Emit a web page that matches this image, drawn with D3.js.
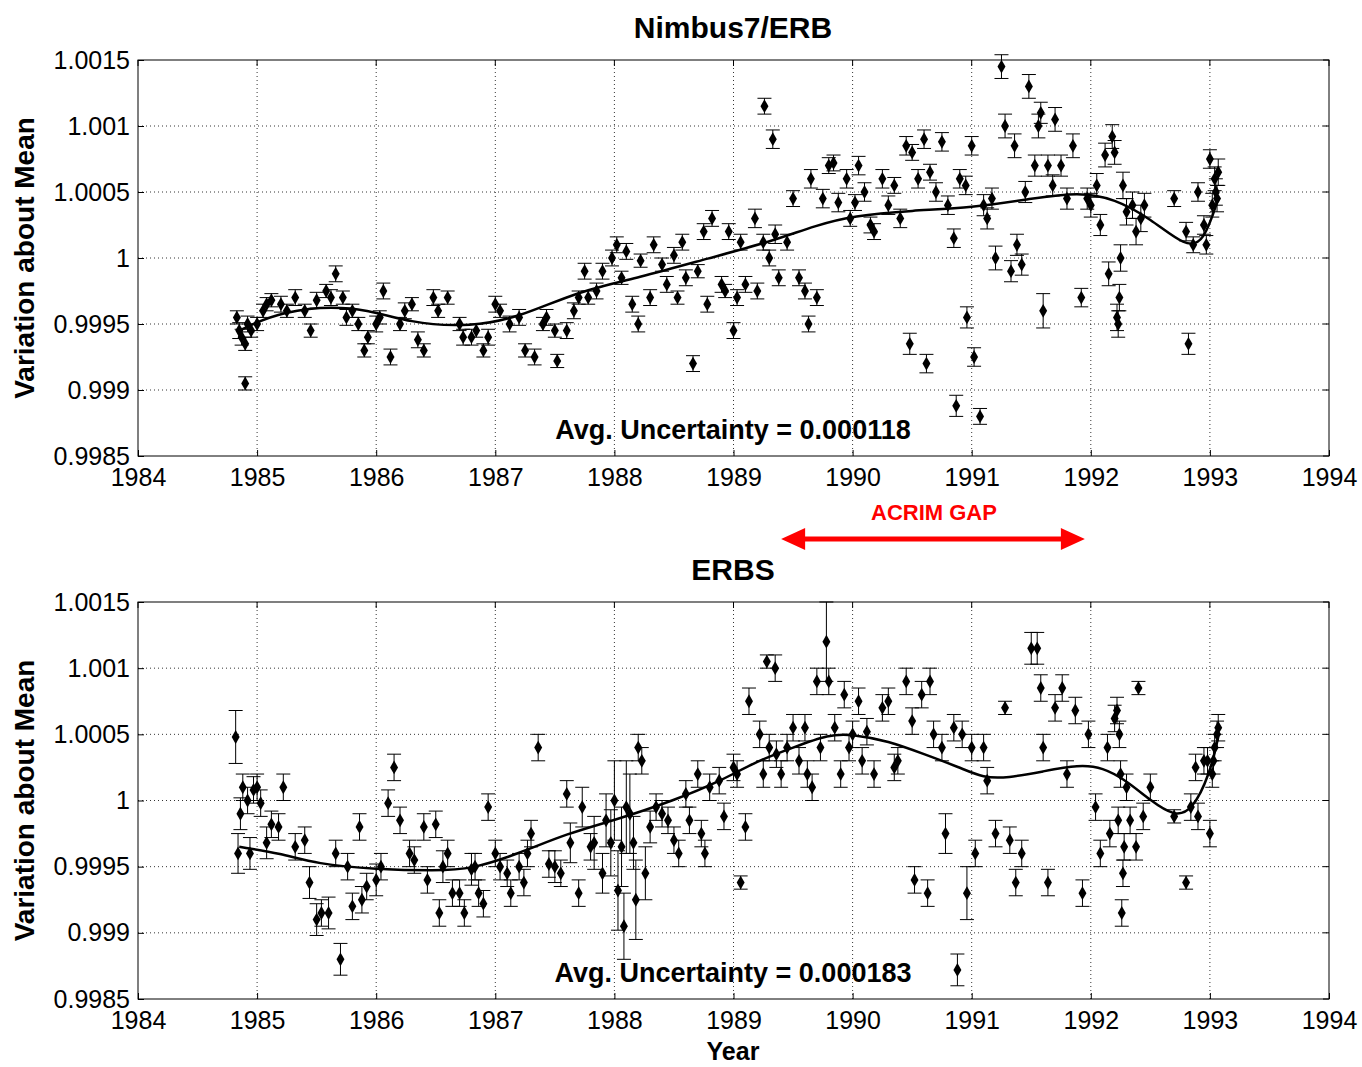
<!DOCTYPE html>
<html><head><meta charset="utf-8">
<script src="https://cdn.jsdelivr.net/npm/d3@7"></script>
<style>body{margin:0;background:#fff;font-family:"Liberation Sans",Arial,sans-serif}</style>
</head><body><svg id="c" width="1362" height="1067"></svg>
<script>
// [year, value, error]
const nimbusPoints = [
[1984.83,0.99955,0.00005],[1984.85,0.99945,0.00006],[1984.87,0.9994,0.00006],[1984.9,0.99935,0.00005],[1984.92,0.9995,0.00006],[1984.9,0.99905,0.00005],
[1984.95,0.99945,0.00005],[1985.0,0.9995,0.00005],[1985.05,0.9996,0.00005],[1985.08,0.99965,0.00005],[1985.12,0.99968,0.00005],
[1985.2,0.99965,0.00006],[1985.25,0.9996,0.00005],[1985.32,0.9997,0.00006],[1985.4,0.9996,0.00005],[1985.45,0.99945,0.00005],
[1985.5,0.99968,0.00006],[1985.58,0.99975,0.00005],[1985.62,0.9997,0.00006],[1985.66,0.99988,0.00006],[1985.72,0.9997,0.00005],
[1985.75,0.99955,0.00006],[1985.8,0.9996,0.00005],[1985.85,0.9995,0.00005],[1985.9,0.9993,0.00005],[1985.93,0.9994,0.00005],
[1986.0,0.9995,0.00006],[1986.03,0.99955,0.00005],[1986.06,0.99975,0.00006],[1986.12,0.99925,0.00006],[1986.2,0.9995,0.00005],
[1986.24,0.9996,0.00006],[1986.3,0.99965,0.00005],[1986.35,0.99938,0.00006],[1986.4,0.9993,0.00005],[1986.48,0.9997,0.00006],
[1986.52,0.9996,0.00005],[1986.6,0.9997,0.00005],[1986.7,0.9995,0.00005],[1986.73,0.9994,0.00006],[1986.8,0.9994,0.00006],
[1986.84,0.99945,0.00005],[1986.9,0.9993,0.00005],[1986.94,0.9994,0.00006],[1987.0,0.99965,0.00006],[1987.04,0.9996,0.00005],
[1987.12,0.9995,0.00006],[1987.2,0.99955,0.00006],[1987.25,0.9993,0.00005],[1987.33,0.99925,0.00006],[1987.4,0.9995,0.00005],
[1987.43,0.99955,0.00006],[1987.5,0.99945,0.00005],[1987.52,0.99922,0.00005],[1987.6,0.99945,0.00006],[1987.66,0.9996,0.00006],
[1987.7,0.9997,0.00005],[1987.75,0.9999,0.00006],[1987.78,0.9997,0.00005],[1987.85,0.99975,0.00006],[1987.9,0.9999,0.00006],
[1987.98,1.0,0.00006],[1988.02,1.0001,0.00006],[1988.06,0.99985,0.00005],[1988.1,1.00005,0.00006],[1988.15,0.99965,0.00006],
[1988.2,0.9995,0.00006],[1988.22,0.99998,0.00005],[1988.3,0.9997,0.00006],[1988.33,1.0001,0.00006],[1988.4,0.99995,0.00005],
[1988.44,0.9998,0.00006],[1988.5,1.00002,0.00006],[1988.53,0.9997,0.00005],[1988.57,1.00012,0.00006],[1988.6,0.99985,0.00006],
[1988.66,0.9992,0.00006],[1988.7,0.9999,0.00005],[1988.75,1.0002,0.00006],[1988.78,0.99965,0.00006],[1988.82,1.0003,0.00006],
[1988.9,0.9998,0.00006],[1988.93,0.99975,0.00005],[1988.96,1.0002,0.00006],[1989.0,0.99945,0.00006],[1989.03,0.9997,0.00006],
[1989.06,1.00012,0.00006],[1989.1,0.9998,0.00006],[1989.18,1.0003,0.00007],[1989.2,0.99975,0.00006],[1989.25,1.00012,0.00006],
[1989.3,1.0,0.00006],[1989.35,1.00018,0.00007],[1989.38,0.99985,0.00006],[1989.26,1.00115,0.00006],[1989.33,1.0009,0.00007],
[1989.45,1.00012,0.00006],[1989.5,1.00045,0.00006],[1989.55,0.99985,0.00006],[1989.6,0.99975,0.00006],[1989.63,0.9995,0.00006],
[1989.65,1.0006,0.00007],[1989.7,0.9997,0.00006],[1989.75,1.00045,0.00007],[1989.8,1.0007,0.00006],[1989.84,1.00072,0.00006],
[1989.88,1.00042,0.00007],[1989.95,1.0006,0.00007],[1989.98,1.0003,0.00006],[1990.02,1.00042,0.00006],[1990.05,1.0007,0.00007],
[1990.1,1.0005,0.00007],[1990.15,1.00025,0.00006],[1990.18,1.0002,0.00006],[1990.25,1.0006,0.00007],[1990.3,1.0004,0.00007],
[1990.35,1.00055,0.00006],[1990.4,1.0003,0.00007],[1990.45,1.00085,0.00007],[1990.5,1.0008,0.00006],[1990.55,1.0006,0.00007],
[1990.6,1.0009,0.00007],[1990.65,1.00065,0.00006],[1990.48,0.99935,0.00008],[1990.62,0.9992,0.00007],[1990.7,1.0005,0.00007],
[1990.75,1.00088,0.00007],[1990.8,1.0004,0.00007],[1990.85,1.00015,0.00007],[1990.9,1.0006,0.00007],[1990.95,1.00055,0.00007],
[1990.87,0.99888,0.00008],[1990.96,0.99955,0.00008],[1991.0,1.00085,0.00007],[1991.02,0.99925,0.00007],[1991.07,0.9988,0.00006],
[1991.1,1.0004,0.00008],[1991.13,1.0003,0.00008],[1991.17,1.00045,0.00008],[1991.2,1.0,0.00009],[1991.25,1.00145,0.00009],
[1991.28,1.001,0.00009],[1991.33,0.9999,0.00008],[1991.36,1.00085,0.00009],[1991.38,1.0001,0.00008],[1991.42,0.99995,0.00008],
[1991.45,1.0005,0.00008],[1991.48,1.0013,0.00009],[1991.53,1.0007,0.00008],[1991.56,1.001,0.00009],[1991.58,1.0011,0.00008],
[1991.6,0.9996,0.00013],[1991.64,1.0007,0.00008],[1991.68,1.00055,0.00008],[1991.7,1.00105,0.00009],[1991.75,1.0007,0.00008],
[1991.8,1.00045,0.00008],[1991.85,1.00085,0.00009],[1991.92,0.9997,0.00007],[1991.97,1.00045,0.00008],[1992.0,1.0004,0.00009],
[1992.05,1.00055,0.00009],[1992.08,1.00025,0.00008],[1992.12,1.00078,0.00009],[1992.15,0.99988,0.00009],[1992.18,1.00092,0.00009],
[1992.2,1.0008,0.00009],[1992.22,0.99955,0.0001],[1992.23,0.9995,0.0001],[1992.24,0.9997,0.0001],[1992.25,1.0,0.0001],
[1992.27,1.00055,0.0001],[1992.3,1.00035,0.0001],[1992.35,1.0004,0.0001],[1992.38,1.0002,0.0001],[1992.42,1.0003,0.0001],
[1992.45,1.0004,0.00009],[1992.7,1.00045,0.00006],[1992.8,1.0002,0.00007],[1992.82,0.99935,0.00008],[1992.86,1.0001,0.00006],
[1992.9,1.0005,0.00007],[1992.95,1.00025,0.00007],[1992.97,1.0001,0.00007],[1993.0,1.00075,0.00007],[1993.02,1.0004,0.00009],
[1993.04,1.0006,0.00009],[1993.05,1.0005,0.0001],[1993.06,1.00045,0.0001],[1993.07,1.00065,0.0001]
];
const nimbusTrend = [
[1984.85,0.99945],[1985.2,0.9996],[1985.8,0.99965],[1986.3,0.9995],[1986.8,0.99948],[1987.2,0.99955],[1987.7,0.99975],
[1988.2,0.99985],[1988.8,1.0],[1989.3,1.00012],[1989.7,1.00025],[1990.0,1.00032],[1990.5,1.00036],[1991.0,1.00038],
[1991.5,1.00045],[1991.9,1.0005],[1992.2,1.00045],[1992.5,1.0003],[1992.8,1.00008],[1992.95,1.00012],[1993.07,1.00045]
];
const erbsPoints = [
[1984.82,1.00048,0.0002],[1984.84,0.9996,0.00015],[1984.86,0.9999,0.00012],[1984.88,1.0001,0.0001],[1984.92,1.0,0.0001],
[1984.94,0.9996,0.00012],[1984.97,1.00008,0.0001],[1985.0,1.0001,0.0001],[1985.03,0.99998,0.0001],[1985.08,0.99968,0.00012],
[1985.12,0.99982,0.0001],[1985.18,0.9998,0.0001],[1985.22,1.0001,0.0001],[1985.32,0.99965,0.0001],[1985.4,0.9997,0.0001],
[1985.44,0.99938,0.00012],[1985.5,0.9991,0.00012],[1985.54,0.99915,0.0001],[1985.6,0.99915,0.00012],[1985.66,0.9996,0.0001],
[1985.7,0.9988,0.00012],[1985.76,0.9995,0.0001],[1985.8,0.9992,0.0001],[1985.86,0.9998,0.0001],[1985.88,0.99925,0.0001],
[1985.92,0.99935,0.0001],[1986.0,0.9994,0.00012],[1986.04,0.9995,0.0001],[1986.1,0.99998,0.0001],[1986.15,1.00025,0.0001],
[1986.2,0.99985,0.0001],[1986.28,0.9996,0.0001],[1986.32,0.99955,0.0001],[1986.4,0.9998,0.0001],[1986.43,0.9994,0.0001],
[1986.5,0.99982,0.0001],[1986.53,0.99915,0.0001],[1986.56,0.9995,0.00012],[1986.6,0.9996,0.0001],[1986.64,0.9993,0.0001],
[1986.7,0.9993,0.0001],[1986.74,0.99915,0.0001],[1986.8,0.99948,0.00012],[1986.83,0.9995,0.0001],[1986.86,0.9993,0.0001],
[1986.9,0.99922,0.0001],[1986.94,0.99995,0.0001],[1987.0,0.9996,0.0001],[1987.04,0.9995,0.0001],[1987.1,0.99945,0.0001],
[1987.13,0.9993,0.0001],[1987.2,0.9995,0.0001],[1987.24,0.99938,0.0001],[1987.27,0.9996,0.0001],[1987.3,0.99975,0.0001],
[1987.36,1.0004,0.0001],[1987.45,0.99952,0.0001],[1987.5,0.9995,0.00012],[1987.55,0.99945,0.0001],[1987.6,1.00005,0.0001],
[1987.63,0.99968,0.00015],[1987.7,0.9993,0.0001],[1987.73,0.99995,0.00015],[1987.8,0.99965,0.0001],[1987.83,0.99968,0.0002],
[1987.9,0.99945,0.00015],[1987.93,0.99985,0.0002],[1987.97,0.99968,0.00025],[1988.0,1.0,0.0003],[1988.03,0.99932,0.0003],
[1988.06,0.99965,0.0003],[1988.08,0.99905,0.00025],[1988.1,0.99995,0.00035],[1988.13,0.9999,0.0003],[1988.16,0.99968,0.0002],
[1988.18,0.99925,0.0003],[1988.2,1.0004,0.0001],[1988.23,1.0003,0.0001],[1988.26,0.99945,0.0002],[1988.3,0.9998,0.00012],
[1988.35,0.99995,0.0001],[1988.4,0.9999,0.0001],[1988.45,0.99985,0.0001],[1988.5,0.9997,0.0001],[1988.54,0.9996,0.0001],
[1988.6,1.00005,0.0001],[1988.63,0.99985,0.0001],[1988.7,1.0002,0.0001],[1988.73,0.99975,0.0001],[1988.76,0.9996,0.0001],
[1988.8,1.0001,0.0001],[1988.88,1.00015,0.0001],[1988.92,0.99988,0.0001],[1989.0,1.00025,0.0001],[1989.03,1.0002,0.0001],
[1989.06,0.99938,0.00005],[1989.1,0.9998,0.0001],[1989.13,1.00075,0.0001],[1989.22,1.0005,0.0001],[1989.25,1.0002,0.0001],
[1989.3,1.0004,0.0001],[1989.36,1.00035,0.0001],[1989.4,1.0002,0.0001],[1989.28,1.00105,0.00005],[1989.35,1.001,0.0001],
[1989.45,1.0004,0.0001],[1989.5,1.00055,0.0001],[1989.55,1.0003,0.0001],[1989.6,1.00055,0.0001],[1989.62,1.0002,0.0001],
[1989.66,1.0001,0.0001],[1989.7,1.0009,0.0001],[1989.73,1.0004,0.0001],[1989.78,1.0012,0.0003],[1989.8,1.0009,0.0001],
[1989.85,1.00055,0.0001],[1989.9,1.0002,0.0001],[1989.93,1.0008,0.0001],[1989.97,1.0004,0.0001],[1990.0,1.0005,0.0001],
[1990.05,1.00075,0.0001],[1990.08,1.0003,0.0001],[1990.12,1.00052,0.0001],[1990.18,1.0002,0.0001],[1990.25,1.0007,0.0001],
[1990.3,1.00075,0.0001],[1990.35,1.00025,0.0001],[1990.38,1.0003,0.0001],[1990.45,1.0009,0.0001],[1990.5,1.0006,0.0001],
[1990.52,0.9994,0.0001],[1990.58,1.0008,0.0001],[1990.63,0.9993,0.0001],[1990.65,1.0009,0.0001],[1990.68,1.0005,0.0001],
[1990.75,1.0004,0.0001],[1990.78,0.99975,0.00015],[1990.85,1.00055,0.0001],[1990.88,0.99872,0.00012],[1990.92,1.0005,0.0001],
[1990.96,0.9993,0.0002],[1991.0,1.0004,0.0001],[1991.03,0.9996,0.0001],[1991.1,1.0004,0.0001],[1991.13,1.00015,0.0001],
[1991.2,0.99975,0.0001],[1991.28,1.0007,0.00005],[1991.32,0.9997,0.0001],[1991.37,0.99938,0.0001],[1991.42,0.9996,0.0001],
[1991.5,1.00115,0.00012],[1991.55,1.00115,0.00012],[1991.58,1.00085,0.0001],[1991.6,1.0004,0.0001],[1991.64,0.99938,0.0001],
[1991.7,1.0007,0.0001],[1991.76,1.00085,0.0001],[1991.8,1.0002,0.0001],[1991.87,1.00068,0.0001],[1991.93,0.9993,0.0001],
[1991.98,1.0005,0.0001],[1992.04,0.99995,0.0001],[1992.08,0.9996,0.0001],[1992.14,1.0004,0.0001],[1992.16,0.99975,0.0001],
[1992.2,1.00062,0.0001],[1992.22,1.00068,0.0001],[1992.23,0.99985,0.0001],[1992.24,1.0005,0.0001],[1992.25,1.0002,0.0001],
[1992.26,0.99915,0.0001],[1992.27,0.99945,0.0001],[1992.28,0.99965,0.0001],[1992.3,1.0001,0.0001],[1992.33,0.99985,0.0001],
[1992.38,0.99965,0.0001],[1992.4,1.00085,0.00005],[1992.44,0.99988,0.0001],[1992.5,1.0001,0.0001],[1992.7,0.99988,0.00005],
[1992.8,0.99938,0.00005],[1992.84,0.99995,0.0001],[1992.88,1.00025,0.0001],[1992.9,0.99988,0.0001],[1992.95,1.0003,0.0001],
[1992.98,1.0003,0.0001],[1993.0,0.99975,0.0001],[1993.02,1.0002,0.0001],[1993.03,1.0003,0.0001],[1993.04,1.0004,0.0001],
[1993.06,1.0005,0.0001],[1993.07,1.00055,0.0001]
];
const erbsTrend = [
[1984.85,0.99965],[1985.2,0.9996],[1985.5,0.99952],[1986.0,0.99948],[1986.5,0.99947],[1986.8,0.99948],[1987.2,0.9996],
[1987.6,0.99975],[1988.0,0.99985],[1988.5,1.0],[1988.9,1.00015],[1989.2,1.0003],[1989.5,1.0004],[1989.8,1.0005],
[1990.0,1.0005],[1990.3,1.00045],[1990.6,1.00035],[1990.9,1.00025],[1991.1,1.00017],[1991.3,1.00017],[1991.6,1.00022],
[1991.9,1.00027],[1992.1,1.00025],[1992.3,1.00015],[1992.5,1.0],[1992.7,0.99988],[1992.85,0.99992],[1993.0,1.0002],[1993.07,1.00048]
];
const yearTicks = d3.range(1984, 1995);
const valueTicks = [0.9985, 0.999, 0.9995, 1, 1.0005, 1.001, 1.0015];
const valueLabels = ["0.9985", "0.999", "0.9995", "1", "1.0005", "1.001", "1.0015"];

const svg = d3.select("#c");
const left = 138, right = 1329;
const x = d3.scaleLinear().domain([1984, 1994]).range([left, right]);

function panel(top, bottom, title, pts, trend, note) {
  const y = d3.scaleLinear().domain([0.9985, 1.0015]).range([bottom, top]);
  const g = svg.append("g");
  // grid
  g.selectAll(".gx").data(yearTicks.slice(1, -1)).enter().append("line")
    .attr("x1", d => x(d)).attr("x2", d => x(d)).attr("y1", top).attr("y2", bottom)
    .attr("stroke", "#000").attr("stroke-width", 0.8).attr("stroke-dasharray", "1,3");
  g.selectAll(".gy").data(valueTicks.slice(1, -1)).enter().append("line")
    .attr("x1", left).attr("x2", right).attr("y1", d => y(d)).attr("y2", d => y(d))
    .attr("stroke", "#000").attr("stroke-width", 0.8).attr("stroke-dasharray", "1,3");
  g.append("rect").attr("x", left).attr("y", top).attr("width", right - left).attr("height", bottom - top)
    .attr("fill", "none").attr("stroke", "#000").attr("stroke-width", 1);
  const ax = g.append("g").attr("transform", `translate(0,${bottom})`)
    .call(d3.axisBottom(x).tickValues(yearTicks).tickFormat(d3.format("d")).tickSize(-6).tickPadding(19));
  const ay = g.append("g").attr("transform", `translate(${left},0)`)
    .call(d3.axisLeft(y).tickValues(valueTicks).tickFormat((d, i) => valueLabels[i]).tickSize(-6).tickPadding(8));
  [ax, ay].forEach(a => {
    a.select(".domain").remove();
    a.selectAll("text").attr("font-size", 25).attr("font-family", "Liberation Sans, Arial").attr("fill", "#000");
  });
  ax.selectAll("text").attr("dy", "0.45em");
  // top/right ticks
  g.selectAll(".tt").data(yearTicks).enter().append("line")
    .attr("x1", d => x(d)).attr("x2", d => x(d)).attr("y1", top).attr("y2", top + 6).attr("stroke", "#000");
  g.selectAll(".tr").data(valueTicks).enter().append("line")
    .attr("x1", right - 6).attr("x2", right).attr("y1", d => y(d)).attr("y2", d => y(d)).attr("stroke", "#000");

  // error bars
  const eb = g.append("g").attr("stroke", "#000").attr("stroke-width", 1);
  pts.forEach(p => {
    const cx = x(p[0]), y1 = y(p[1] - p[2]), y2 = y(p[1] + p[2]);
    eb.append("line").attr("x1", cx).attr("x2", cx).attr("y1", y1).attr("y2", y2);
    eb.append("line").attr("x1", cx - 7).attr("x2", cx + 7).attr("y1", y1).attr("y2", y1);
    eb.append("line").attr("x1", cx - 7).attr("x2", cx + 7).attr("y1", y2).attr("y2", y2);
  });
  g.selectAll(".pt").data(pts).enter().append("path")
    .attr("d", d3.symbol(d3.symbolDiamond, 55))
    .attr("transform", d => `translate(${x(d[0])},${y(d[1])})`).attr("fill", "#000");
  g.append("path").datum(trend)
    .attr("d", d3.line().x(d => x(d[0])).y(d => y(d[1])).curve(d3.curveBasis))
    .attr("fill", "none").attr("stroke", "#000").attr("stroke-width", 2.5);

  g.append("text").attr("x", 733).attr("y", top - 22).attr("text-anchor", "middle")
    .attr("font-size", 30).attr("font-weight", "bold").text(title);
  g.append("text").attr("x", 733).attr("y", bottom - 17).attr("text-anchor", "middle")
    .attr("font-size", 27).attr("font-weight", "bold").text(note);
  g.append("text").attr("transform", `translate(34,${(top + bottom) / 2}) rotate(-90)`)
    .attr("text-anchor", "middle").attr("font-size", 28).attr("font-weight", "bold").text("Variation about Mean");
}

panel(60, 456, "Nimbus7/ERB", nimbusPoints, nimbusTrend, "Avg. Uncertainty = 0.000118");
panel(602, 999, "ERBS", erbsPoints, erbsTrend, "Avg. Uncertainty = 0.000183");

svg.append("text").attr("x", 733).attr("y", 1060).attr("text-anchor", "middle")
  .attr("font-size", 25).attr("font-weight", "bold").text("Year");

// ACRIM gap arrow
const gapStart = 1989.4, gapEnd = 1991.95;
svg.append("line").attr("x1", x(gapStart) + 20).attr("x2", x(gapEnd) - 20).attr("y1", 539).attr("y2", 539)
  .attr("stroke", "#f00").attr("stroke-width", 5);
svg.append("path").attr("d", `M${x(gapStart)},539 l24,-11 v22 z`).attr("fill", "#f00");
svg.append("path").attr("d", `M${x(gapEnd)},539 l-24,-11 v22 z`).attr("fill", "#f00");
svg.append("text").attr("x", 934).attr("y", 520).attr("text-anchor", "middle")
  .attr("font-size", 22).attr("font-weight", "bold").attr("fill", "#f00").text("ACRIM GAP");
</script></body></html>
